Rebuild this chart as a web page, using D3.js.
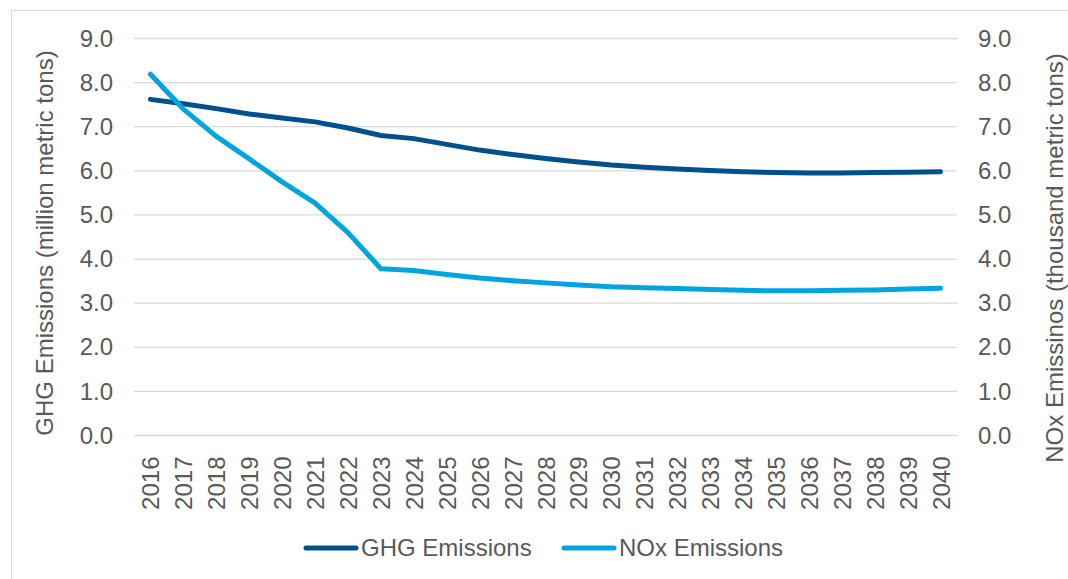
<!DOCTYPE html>
<html>
<head>
<meta charset="utf-8">
<script src="https://cdn.jsdelivr.net/npm/d3@7"></script>
<style>
  body { margin: 0; background: #fff; }
  svg text { font-family: "Liberation Sans", Arial, sans-serif; fill: #595959; }
</style>
</head>
<body>
<svg id="chart" width="1068" height="579"></svg>
<script>
const years = d3.range(2016, 2041).map(String);
const ghgValues = [7.62, 7.52, 7.41, 7.29, 7.20, 7.11, 6.97, 6.80, 6.73, 6.60, 6.47, 6.37, 6.28, 6.20, 6.13, 6.08, 6.04, 6.01, 5.98, 5.96, 5.95, 5.95, 5.96, 5.97, 5.98];
const noxValues = [8.19, 7.40, 6.78, 6.27, 5.75, 5.27, 4.60, 3.78, 3.74, 3.65, 3.57, 3.51, 3.46, 3.41, 3.37, 3.35, 3.33, 3.31, 3.29, 3.28, 3.28, 3.29, 3.30, 3.32, 3.34];
const yTicks = [0, 1, 2, 3, 4, 5, 6, 7, 8, 9];

const svg = d3.select('#chart');
const fontFamily = '"Liberation Sans", Arial, sans-serif';
const textColor = '#595959';

// outer chart border (cut off on right/bottom)
svg.append('rect')
  .attr('x', 11.5).attr('y', 10.5)
  .attr('width', 1080).attr('height', 600)
  .attr('fill', 'none').attr('stroke', '#d9d9d9');

const plotLeft = 134, plotRight = 957, plotTop = 38.5, plotBottom = 435.5;

const x = d3.scaleBand().domain(years).range([plotLeft, plotRight]);
const yLeft = d3.scaleLinear().domain([0, 9]).range([plotBottom, plotTop]);
const yRight = d3.scaleLinear().domain([0, 9]).range([plotBottom, plotTop]);

// gridlines
svg.append('g')
  .selectAll('line')
  .data(yTicks)
  .enter()
  .append('line')
  .attr('x1', plotLeft).attr('x2', plotRight)
  .attr('y1', (d) => yLeft(d)).attr('y2', (d) => yLeft(d))
  .attr('stroke', '#d9d9d9').attr('stroke-width', 1.3);

// left axis
const leftAxis = svg.append('g')
  .attr('transform', `translate(${plotLeft},0)`)
  .call(d3.axisLeft(yLeft).tickValues(yTicks).tickFormat(d3.format('.1f')).tickSize(0).tickPadding(21));
leftAxis.select('.domain').remove();
leftAxis.selectAll('text').attr('font-size', '24px').style('fill', textColor)
  .style('font-family', fontFamily);

// right axis
const rightAxis = svg.append('g')
  .attr('transform', `translate(${plotRight},0)`)
  .call(d3.axisRight(yRight).tickValues(yTicks).tickFormat(d3.format('.1f')).tickSize(0).tickPadding(21));
rightAxis.select('.domain').remove();
rightAxis.selectAll('text').attr('font-size', '24px').style('fill', textColor)
  .style('font-family', fontFamily);

// x axis
const xAxis = svg.append('g')
  .attr('transform', `translate(0,${plotBottom})`)
  .call(d3.axisBottom(x).tickSize(0).tickPadding(0));
xAxis.select('.domain').remove();
xAxis.selectAll('text')
  .attr('font-size', '24px')
  .style('fill', textColor)
  .style('font-family', fontFamily)
  .attr('text-anchor', 'end')
  .attr('y', 0)
  .attr('dy', null)
  .attr('transform', 'translate(9,21) rotate(-90)');

// axis titles
svg.append('text')
  .attr('transform', `translate(53,243) rotate(-90)`)
  .attr('text-anchor', 'middle')
  .attr('font-size', '24px')
  .text('GHG Emissions (million metric tons)');

svg.append('text')
  .attr('transform', `translate(1063,258) rotate(-90)`)
  .attr('text-anchor', 'middle')
  .attr('font-size', '24px')
  .text('NOx Emissinos (thousand metric tons)');

// lines
const series = [
  { name: 'GHG Emissions', values: ghgValues, color: '#00508c', scale: yLeft },
  { name: 'NOx Emissions', values: noxValues, color: '#00a5e0', scale: yRight }
];

series.forEach((s) => {
  const line = d3.line()
    .x((d, i) => x(years[i]) + x.bandwidth() / 2)
    .y((d) => s.scale(d));
  svg.append('path')
    .datum(s.values)
    .attr('d', line)
    .attr('fill', 'none')
    .attr('stroke', s.color)
    .attr('stroke-width', 5)
    .attr('stroke-linecap', 'round')
    .attr('stroke-linejoin', 'round');
});

// legend
const legendPos = [306, 564];
const legend = svg.append('g')
  .selectAll('g')
  .data(series)
  .enter()
  .append('g')
  .attr('transform', (d, i) => `translate(${legendPos[i]},548)`);
legend.append('line')
  .attr('x1', 0).attr('x2', 50)
  .attr('stroke', (d) => d.color)
  .attr('stroke-width', 5)
  .attr('stroke-linecap', 'round');
legend.append('text')
  .attr('x', 55)
  .attr('dy', '0.35em')
  .attr('font-size', '24px')
  .text((d) => d.name);
</script>
</body>
</html>
